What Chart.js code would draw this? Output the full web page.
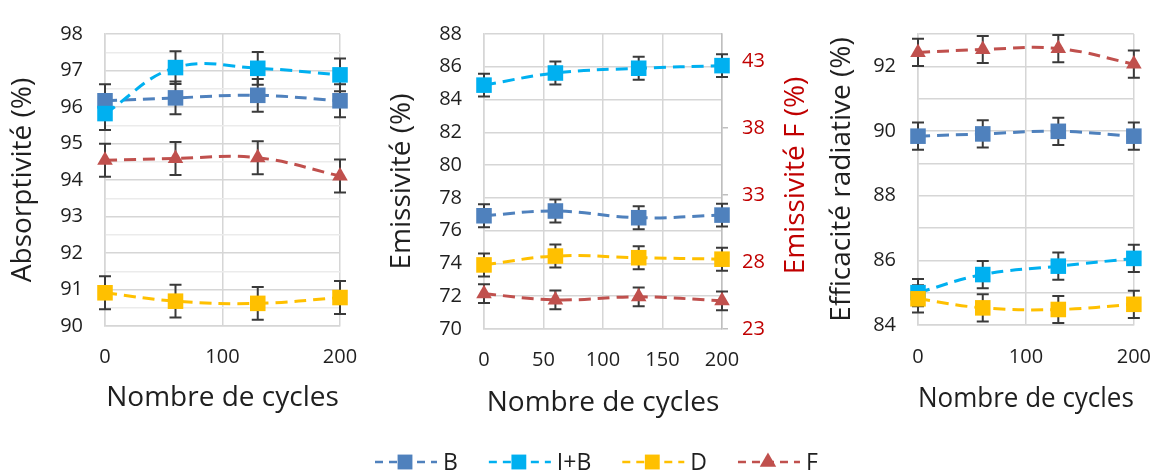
<!DOCTYPE html>
<html>
<head>
<meta charset="utf-8">
<script src="https://cdn.jsdelivr.net/npm/chart.js@4.4.0/dist/chart.umd.min.js"></script>
<style>
  html, body { margin: 0; padding: 0; background: #fff; width: 1171px; height: 474px; overflow: hidden; }
  canvas { position: absolute; top: 0; }
  #absChart { left: 0px; }
  #emiChart { left: 385px; }
  #effChart { left: 790px; }
  #legend { left: 0px; top: 440px; }
</style>
</head>
<body>
<canvas id="absChart" width="385" height="420"></canvas>
<canvas id="emiChart" width="425" height="420"></canvas>
<canvas id="effChart" width="381" height="420"></canvas>
<canvas id="legend" width="1171" height="34"></canvas>
<script>
// Series
const cycles = [0, 60, 130, 200];
const seriesNames = ["B", "I+B", "D", "F"];
const seriesColors = ["#4F81BD", "#00B0F0", "#FFC000", "#C0504D"];
const seriesMarkers = ["rect", "rect", "rect", "triangle"];

// Absorptivité (%)
const absB = [96.17, 96.25, 96.32, 96.17];
const absIB = [95.82, 97.08, 97.06, 96.88];
const absD = [90.91, 90.68, 90.62, 90.78];
const absF = [94.54, 94.59, 94.61, 94.11];
const absErr = [0.45, 0.45, 0.45, 0.45];

// Emissivité (%) - F on the right axis
const emiB = [76.91, 77.2, 76.79, 76.95];
const emiIB = [84.88, 85.62, 85.91, 86.07];
const emiD = [73.91, 74.45, 74.35, 74.26];
const emiF = [25.63, 25.17, 25.4, 25.1];
const emiErr = [0.7, 0.7, 0.7, 0.7];
const emiRightTicks = [23, 28, 33, 38, 43];

// Efficacité radiative (%)
const effB = [89.84, 89.91, 89.99, 89.84];
const effIB = [85.0, 85.56, 85.82, 86.06];
const effD = [84.81, 84.53, 84.48, 84.64];
const effF = [92.43, 92.52, 92.55, 92.07];
const effErr = [0.42, 0.42, 0.42, 0.42];

const xTitle = "Nombre de cycles";
const rightTitle = "Emissivité F (%)";
const textColor = "#1f1f1f";
const redText = "#C00000";
const gridColor = "#d6d6d6";
const tickSize = 20;
const titleSize = 28;

Chart.defaults.font.family = "'Open Sans', sans-serif";
Chart.defaults.color = textColor;

// error bars, drawn behind the markers
const errorBars = {
  id: "errorBars",
  beforeDatasetsDraw(chart) {
    const ctx = chart.ctx;
    ctx.save();
    ctx.strokeStyle = "#3a3a3a";
    ctx.lineWidth = 2;
    chart.data.datasets.forEach((ds, i) => {
      const meta = chart.getDatasetMeta(i);
      const yScale = chart.scales[meta.yAxisID];
      ds.data.forEach((p, j) => {
        const x = meta.data[j].x;
        const yTop = yScale.getPixelForValue(p.y + ds.errorBar);
        const yBot = yScale.getPixelForValue(p.y - ds.errorBar);
        ctx.beginPath();
        ctx.moveTo(x, yTop); ctx.lineTo(x, yBot);
        ctx.moveTo(x - 6, yTop); ctx.lineTo(x + 6, yTop);
        ctx.moveTo(x - 6, yBot); ctx.lineTo(x + 6, yBot);
        ctx.stroke();
      });
    });
    ctx.restore();
  }
};

// right axis title reads bottom-to-top like the left one
const rightAxisTitle = {
  id: "rightAxisTitle",
  afterDraw(chart) {
    const s = chart.scales.y1;
    const ctx = chart.ctx;
    ctx.save();
    ctx.translate(s.right - 14, (s.top + s.bottom) / 2 - 6);
    ctx.rotate(-Math.PI / 2);
    ctx.font = titleSize + "px 'Open Sans'";
    ctx.fillStyle = redText;
    ctx.textAlign = "center";
    ctx.textBaseline = "middle";
    ctx.fillText(rightTitle, 0, 0);
    ctx.restore();
  }
};

const buildDatasets = (values, errs, axes) => {
  return seriesNames.map((name, i) => ({
    label: name,
    data: cycles.map((c, k) => ({ x: c, y: values[i][k] })),
    errorBar: errs[i],
    yAxisID: axes ? axes[i] : "y",
    borderColor: seriesColors[i],
    backgroundColor: seriesColors[i],
    pointStyle: seriesMarkers[i],
    pointRadius: seriesMarkers[i] === "triangle" ? 9 : 11,
    pointBorderWidth: 0,
    borderWidth: 3,
    borderDash: [12, 7],
    tension: 0.4,
    clip: false,
    order: seriesNames.length - i,
  }));
};

const xAxis = (step, tickPad, titlePad, height) => ({
  type: "linear",
  min: 0,
  max: 200,
  ticks: { stepSize: step, padding: tickPad, font: { size: tickSize }, color: textColor },
  grid: { color: gridColor, lineWidth: 1.5, drawTicks: false },
  border: { color: gridColor, width: 1.5 },
  title: { display: true, text: xTitle, font: { size: titleSize }, color: textColor, padding: { top: 0, bottom: titlePad } },
  afterFit: (s) => { s.height = height; },
});

const yTitle = (text, pad) => ({
  display: true, text: text, font: { size: titleSize }, color: textColor, padding: { top: pad, bottom: 0 },
});

const baseOptions = (scales, padding) => ({
  responsive: false,
  animation: false,
  events: [],
  layout: { padding: padding },
  plugins: { legend: { display: false }, tooltip: { enabled: false } },
  scales: scales,
});

// Absorptivité
new Chart(document.getElementById("absChart"), {
  type: "line",
  data: { datasets: buildDatasets([absB, absIB, absD, absF], absErr) },
  options: baseOptions({
    x: xAxis(100, 19, 5.6, 94),
    y: {
      min: 90, max: 98,
      ticks: {
        stepSize: 0.5, maxTicksLimit: 30, autoSkip: false, padding: 22, font: { size: tickSize }, color: textColor,
        callback: (v) => (Number.isInteger(v) ? v : ""),
      },
      grid: {
        drawTicks: false, lineWidth: 1.5,
        color: (ctx) => (ctx.tick && Number.isInteger(ctx.tick.value) ? gridColor : "#ebebeb"),
      },
      border: { color: gridColor, width: 1.5 },
      title: yTitle("Absorptivité (%)", 6.2),
      afterFit: (s) => { s.width = 105; },
    },
  }, { top: 19, right: 45, left: 0, bottom: 0 }),
  plugins: [errorBars],
});

// Emissivité
new Chart(document.getElementById("emiChart"), {
  type: "line",
  data: { datasets: buildDatasets([emiB, emiIB, emiD, emiF], emiErr, ["y", "y", "y", "y1"]) },
  options: baseOptions({
    x: xAxis(50, 19, 0.6, 91),
    y: {
      min: 70, max: 88,
      ticks: { stepSize: 2, autoSkip: false, padding: 22, font: { size: tickSize }, color: textColor },
      grid: { drawTicks: false, lineWidth: 1.5, color: gridColor },
      border: { color: gridColor, width: 1.5 },
      title: yTitle("Emissivité (%)", 0.2),
      afterFit: (s) => { s.width = 99; },
    },
    y1: {
      position: "right",
      min: 23, max: 45,
      afterBuildTicks: (s) => { s.ticks = emiRightTicks.map((v) => ({ value: v })); },
      ticks: { padding: 14, font: { size: tickSize }, color: redText, autoSkip: false },
      grid: { drawOnChartArea: false, drawTicks: true, tickLength: 6, color: "#bfbfbf", lineWidth: 1.5 },
      border: { color: "#bfbfbf", width: 1.5 },
      afterFit: (s) => { s.width = 88; },
    },
  }, { top: 19, right: 0, left: 0, bottom: 0 }),
  plugins: [errorBars, rightAxisTitle],
});

// Efficacité radiative
new Chart(document.getElementById("effChart"), {
  type: "line",
  data: { datasets: buildDatasets([effB, effIB, effD, effF], effErr) },
  options: baseOptions({
    x: xAxis(100, 20, 4.6, 95),
    y: {
      min: 84, max: 93,
      ticks: {
        stepSize: 1, autoSkip: false, padding: 22, font: { size: tickSize }, color: textColor,
        callback: (v) => (v % 2 === 0 ? v : ""),
      },
      grid: { drawTicks: false, lineWidth: 1.5, color: gridColor },
      border: { color: gridColor, width: 1.5 },
      title: yTitle("Efficacité radiative (%)", 35.2),
      afterFit: (s) => { s.width = 128; },
    },
  }, { top: 12, right: 28, left: 0, bottom: 0 }),
  plugins: [errorBars],
});

// shared legend under the three panels
const drawLegend = () => {
  const ctx = document.getElementById("legend").getContext("2d");
  ctx.font = "23px 'Open Sans'";
  ctx.textBaseline = "middle";
  let x = 375;
  const y = 22;
  seriesNames.forEach((name, i) => {
    ctx.strokeStyle = seriesColors[i];
    ctx.lineWidth = 2.5;
    ctx.setLineDash([8, 6]);
    ctx.beginPath();
    ctx.moveTo(x, y);
    ctx.lineTo(x + 62, y);
    ctx.stroke();
    ctx.setLineDash([]);
    ctx.fillStyle = seriesColors[i];
    Chart.helpers.drawPoint(ctx, {
      pointStyle: seriesMarkers[i],
      radius: seriesMarkers[i] === "triangle" ? 9.5 : 10.5,
      borderWidth: 0,
      rotation: 0,
    }, x + 30, y);
    ctx.fillStyle = textColor;
    ctx.fillText(name, x + 68, y + 1);
    x += 68 + ctx.measureText(name).width + 31;
  });
};
drawLegend();
</script>
</body>
</html>
